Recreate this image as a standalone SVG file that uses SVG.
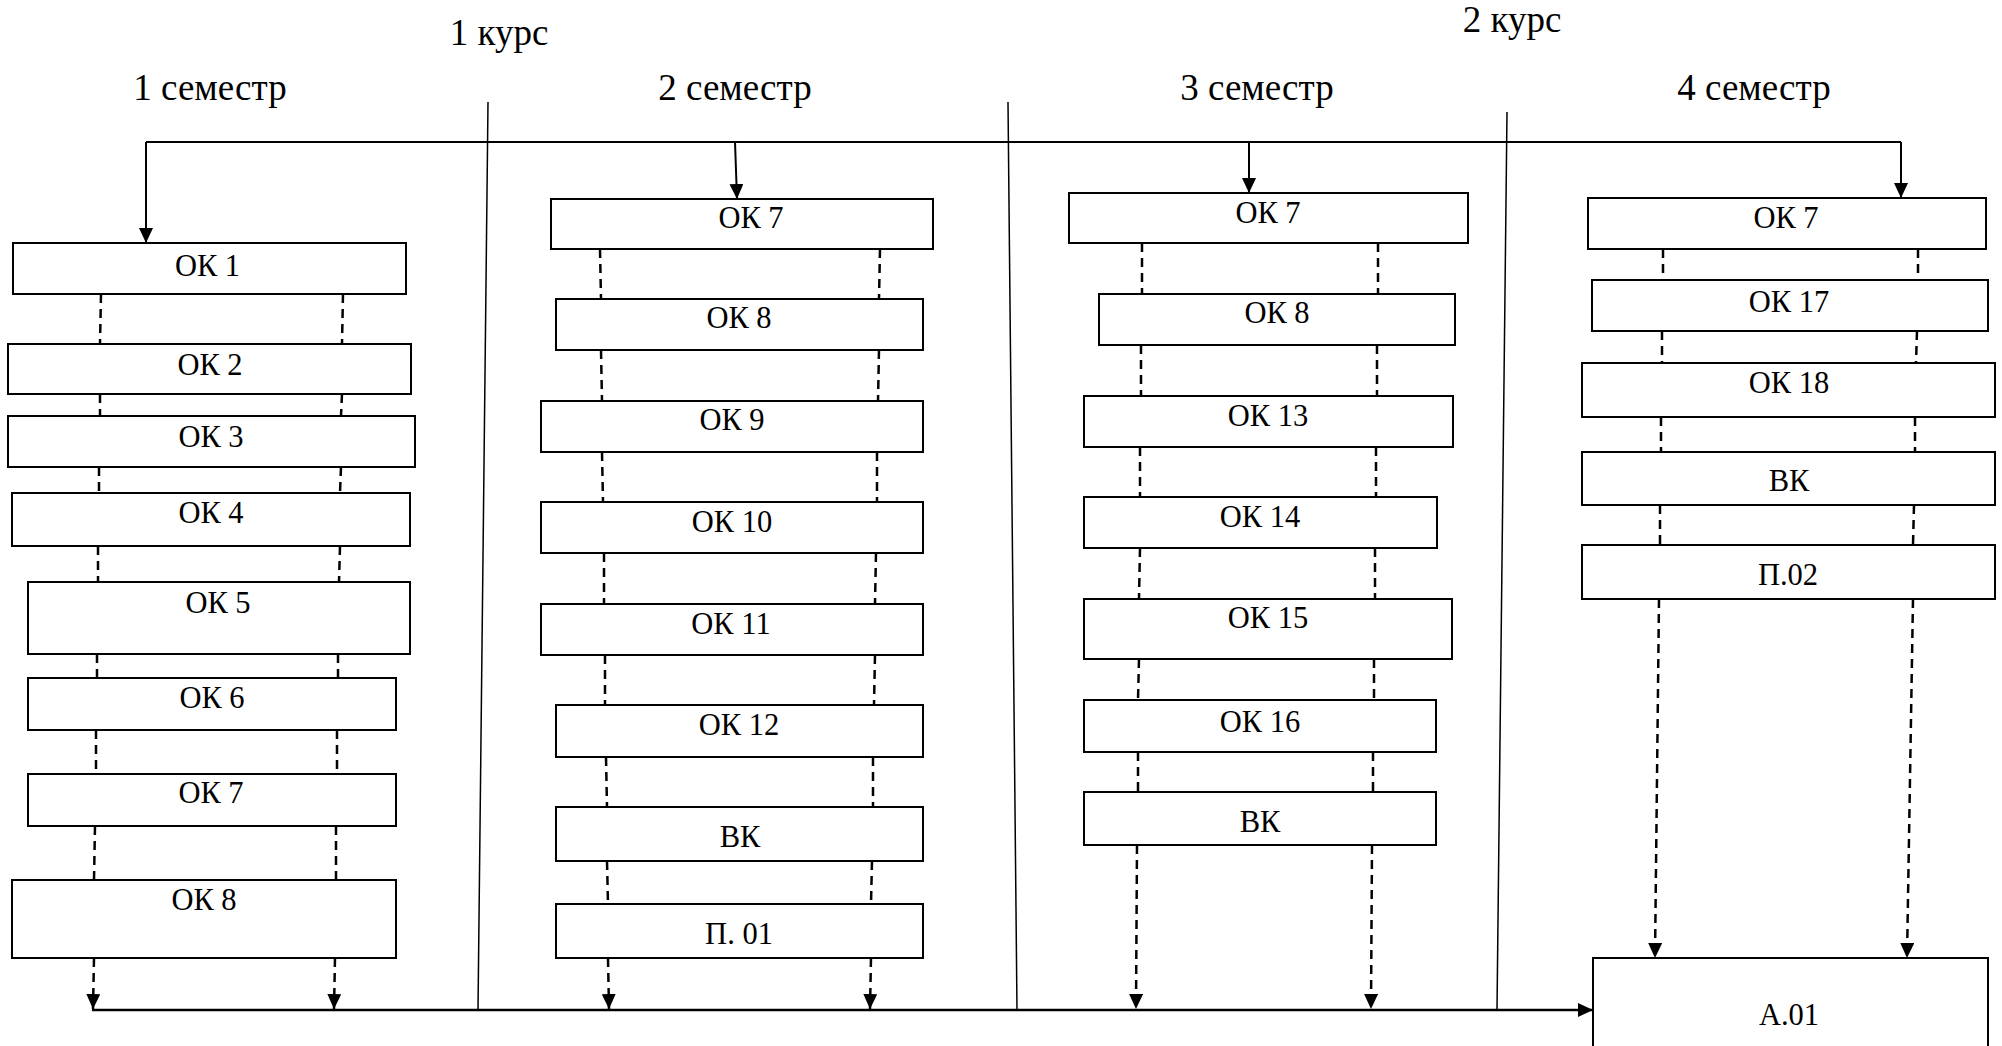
<svg xmlns="http://www.w3.org/2000/svg" width="2002" height="1046" viewBox="0 0 2002 1046">
<style>
.box{fill:#fff;stroke:#000;stroke-width:2}
.t{font-family:"Liberation Serif","Times New Roman",serif;font-size:30.5px;text-anchor:middle;fill:#000}
.h{font-family:"Liberation Serif","Times New Roman",serif;font-size:37px;text-anchor:middle;fill:#000}
.dash{stroke:#000;stroke-width:2.5;stroke-dasharray:9 6;fill:none}
.solid{stroke:#000;stroke-width:2;fill:none}
.div{stroke:#000;stroke-width:1.5;fill:none}
</style>
<defs>
<marker id="arr" viewBox="0 0 15 14" refX="15" refY="7" markerWidth="15" markerHeight="14" markerUnits="userSpaceOnUse" orient="auto">
<path d="M0,0 L15,7 L0,14 z" fill="#000" stroke="none"/>
</marker>
</defs>
<rect x="0" y="0" width="2002" height="1046" fill="#fff"/>
<g id="headers">
<text class="h" x="499" y="45">1 курс</text>
<text class="h" x="1512" y="32">2 курс</text>
<text class="h" x="210" y="100">1 семестр</text>
<text class="h" x="735" y="100">2 семестр</text>
<text class="h" x="1257" y="100">3 семестр</text>
<text class="h" x="1754" y="100">4 семестр</text>
</g>
<g id="dividers">
<path class="div" d="M488,102 L478,1010"/>
<path class="div" d="M1008,102 L1017,1010"/>
<path class="div" d="M1507,112 L1497,1010"/>
</g>
<g id="connectors">
<path class="solid" d="M146,142 H1901"/>
<path class="solid" d="M146,142 V243" marker-end="url(#arr)"/>
<path class="solid" d="M735,142 L737,199" marker-end="url(#arr)"/>
<path class="solid" d="M1249,142 V193" marker-end="url(#arr)"/>
<path class="solid" d="M1901,142 V198" marker-end="url(#arr)"/>
<path class="solid" style="stroke-width:2.5" d="M92,1010 H1593" marker-end="url(#arr)"/>
<path class="dash" d="M101,294 L100,344 M100,394 L100,416 M99,467 L99,493 M98,546 L98,582 M97,654 L97,678 M96,730 L96,774 M95,826 L94,880"/>
<path class="dash" d="M94,958 L93,1009" marker-end="url(#arr)"/>
<path class="dash" d="M343,294 L342,344 M342,394 L341,416 M341,467 L340,493 M340,546 L339,582 M338,654 L338,678 M337,730 L337,774 M336,826 L336,880"/>
<path class="dash" d="M335,958 L334,1009" marker-end="url(#arr)"/>
<path class="dash" d="M600,249 L601,299 M601,350 L602,401 M602,452 L603,502 M604,553 L604,604 M605,655 L605,705 M606,757 L607,807 M607,861 L608,904"/>
<path class="dash" d="M608,958 L609,1009" marker-end="url(#arr)"/>
<path class="dash" d="M880,249 L879,299 M879,350 L878,401 M877,452 L877,502 M876,553 L875,604 M875,655 L874,705 M873,757 L873,807 M872,861 L871,904"/>
<path class="dash" d="M871,958 L870,1009" marker-end="url(#arr)"/>
<path class="dash" d="M1142,243 L1142,294 M1141,345 L1141,396 M1140,447 L1140,497 M1140,548 L1139,599 M1139,659 L1138,700 M1138,752 L1138,792"/>
<path class="dash" d="M1137,845 L1136,1009" marker-end="url(#arr)"/>
<path class="dash" d="M1378,243 L1378,294 M1377,345 L1377,396 M1376,447 L1376,497 M1375,548 L1375,599 M1374,659 L1374,700 M1373,752 L1373,792"/>
<path class="dash" d="M1372,845 L1371,1009" marker-end="url(#arr)"/>
<path class="dash" d="M1663,249 L1663,280 M1662,331 L1662,363 M1661,417 L1661,452 M1660,505 L1660,545"/>
<path class="dash" d="M1659,599 L1655,958" marker-end="url(#arr)"/>
<path class="dash" d="M1918,249 L1918,280 M1917,331 L1916,363 M1915,417 L1915,452 M1914,505 L1913,545"/>
<path class="dash" d="M1913,599 L1907,958" marker-end="url(#arr)"/>
</g>
<g id="s1-ok1"><rect class="box" x="13" y="243" width="393" height="51"/><text class="t" x="207.5" y="276">ОК 1</text></g>
<g id="s1-ok2"><rect class="box" x="8" y="344" width="403" height="50"/><text class="t" x="210" y="375">ОК 2</text></g>
<g id="s1-ok3"><rect class="box" x="8" y="416" width="407" height="51"/><text class="t" x="211" y="447">ОК 3</text></g>
<g id="s1-ok4"><rect class="box" x="12" y="493" width="398" height="53"/><text class="t" x="211" y="523">ОК 4</text></g>
<g id="s1-ok5"><rect class="box" x="28" y="582" width="382" height="72"/><text class="t" x="218" y="613">ОК 5</text></g>
<g id="s1-ok6"><rect class="box" x="28" y="678" width="368" height="52"/><text class="t" x="212" y="708">ОК 6</text></g>
<g id="s1-ok7"><rect class="box" x="28" y="774" width="368" height="52"/><text class="t" x="211" y="803">ОК 7</text></g>
<g id="s1-ok8"><rect class="box" x="12" y="880" width="384" height="78"/><text class="t" x="204" y="910">ОК 8</text></g>
<g id="s2-ok7"><rect class="box" x="551" y="199" width="382" height="50"/><text class="t" x="751" y="228">ОК 7</text></g>
<g id="s2-ok8"><rect class="box" x="556" y="299" width="367" height="51"/><text class="t" x="739" y="328">ОК 8</text></g>
<g id="s2-ok9"><rect class="box" x="541" y="401" width="382" height="51"/><text class="t" x="732" y="430">ОК 9</text></g>
<g id="s2-ok10"><rect class="box" x="541" y="502" width="382" height="51"/><text class="t" x="732" y="532">ОК 10</text></g>
<g id="s2-ok11"><rect class="box" x="541" y="604" width="382" height="51"/><text class="t" x="731" y="634">ОК 11</text></g>
<g id="s2-ok12"><rect class="box" x="556" y="705" width="367" height="52"/><text class="t" x="739" y="735">ОК 12</text></g>
<g id="s2-vk"><rect class="box" x="556" y="807" width="367" height="54"/><text class="t" x="740" y="847">ВК</text></g>
<g id="s2-p01"><rect class="box" x="556" y="904" width="367" height="54"/><text class="t" x="739" y="944">П. 01</text></g>
<g id="s3-ok7"><rect class="box" x="1069" y="193" width="399" height="50"/><text class="t" x="1268" y="223">ОК 7</text></g>
<g id="s3-ok8"><rect class="box" x="1099" y="294" width="356" height="51"/><text class="t" x="1277" y="323">ОК 8</text></g>
<g id="s3-ok13"><rect class="box" x="1084" y="396" width="369" height="51"/><text class="t" x="1268" y="426">ОК 13</text></g>
<g id="s3-ok14"><rect class="box" x="1084" y="497" width="353" height="51"/><text class="t" x="1260" y="527">ОК 14</text></g>
<g id="s3-ok15"><rect class="box" x="1084" y="599" width="368" height="60"/><text class="t" x="1268" y="628">ОК 15</text></g>
<g id="s3-ok16"><rect class="box" x="1084" y="700" width="352" height="52"/><text class="t" x="1260" y="732">ОК 16</text></g>
<g id="s3-vk"><rect class="box" x="1084" y="792" width="352" height="53"/><text class="t" x="1260" y="832">ВК</text></g>
<g id="s4-ok7"><rect class="box" x="1588" y="198" width="398" height="51"/><text class="t" x="1786" y="228">ОК 7</text></g>
<g id="s4-ok17"><rect class="box" x="1592" y="280" width="396" height="51"/><text class="t" x="1789" y="312">ОК 17</text></g>
<g id="s4-ok18"><rect class="box" x="1582" y="363" width="413" height="54"/><text class="t" x="1789" y="393">ОК 18</text></g>
<g id="s4-vk"><rect class="box" x="1582" y="452" width="413" height="53"/><text class="t" x="1789" y="491">ВК</text></g>
<g id="s4-p02"><rect class="box" x="1582" y="545" width="413" height="54"/><text class="t" x="1788" y="585">П.02</text></g>
<g id="a01"><rect class="box" x="1593" y="958" width="395" height="100"/><text class="t" x="1789" y="1025">А.01</text></g>
</svg>
